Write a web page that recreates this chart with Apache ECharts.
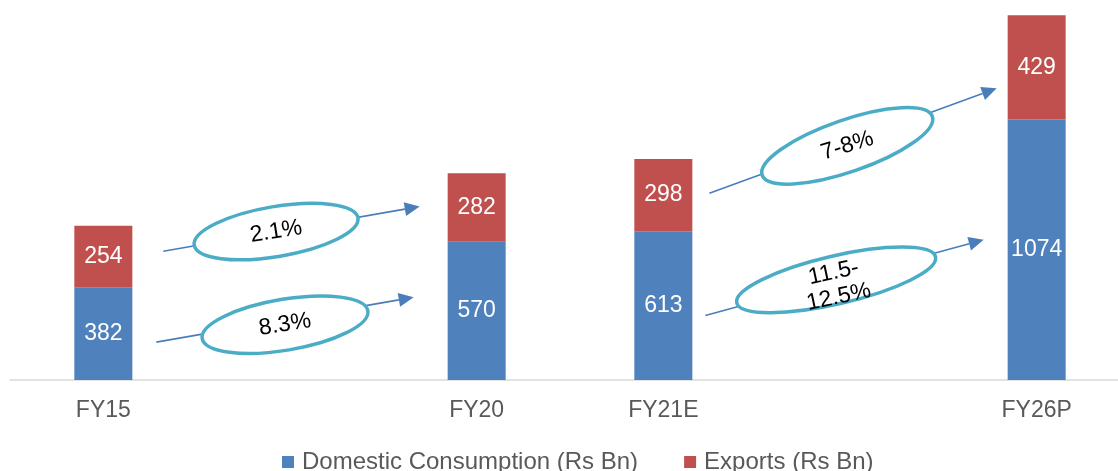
<!DOCTYPE html>
<html>
<head>
<meta charset="utf-8">
<script src="https://cdn.jsdelivr.net/npm/echarts@6/dist/echarts.min.js"></script>
<style>
  html, body { margin: 0; padding: 0; background: #fff; overflow: hidden; }
  /* canvas runs a little past the right edge so the last slot keeps its full width */
  #chart { width: 1130px; height: 471px; }
</style>
</head>
<body>
<div id="chart"></div>
<script>
// Fiscal years; the two blank slots keep the five-year gaps wide
const categories = ['FY15', ' ', 'FY20', 'FY21E', '  ', 'FY26P'];
const domestic = [382, null, 570, 613, null, 1074];
const exportsVals = [254, null, 282, 298, null, 429];
const seriesNames = ['Domestic Consumption (Rs Bn)', 'Exports (Rs Bn)'];
// CAGR call-outs: exports FY15-20, domestic FY15-20, exports FY21-26, domestic FY21-26
const growthLabels = ['2.1%', '8.3%', '7-8%', '11.5-\n12.5%'];

const FONT = '"Liberation Sans", Arial, sans-serif';
const BLUE = '#4f81bd';
const RED = '#c0504d';

const chart = echarts.init(document.getElementById('chart'), null, { renderer: 'canvas' });

chart.setOption({
  animation: false,
  textStyle: { fontFamily: FONT },
  grid: { left: 10, right: 0, top: 10, height: 370, containLabel: false },
  legend: {
    data: seriesNames,
    left: 277,
    top: 445,
    icon: 'rect',
    itemWidth: 12,
    itemHeight: 12,
    itemGap: 46,
    textStyle: { fontSize: 24, color: '#595959', fontFamily: FONT, padding: [0, 0, 0, 3] }
  },
  xAxis: {
    type: 'category',
    data: categories,
    axisLine: { show: true, lineStyle: { color: '#d9d9d9', width: 1.5 } },
    axisTick: { show: false },
    axisLabel: { color: '#595959', fontSize: 23, fontFamily: FONT, margin: 19, interval: 0 }
  },
  yAxis: {
    type: 'value',
    min: 0,
    max: 1525,
    show: false,
    splitLine: { show: false }
  },
  series: [
    {
      name: seriesNames[0],
      type: 'bar',
      stack: 'total',
      barWidth: 58,
      data: domestic,
      itemStyle: { color: BLUE },
      label: { show: true, position: 'inside', color: '#fff', fontSize: 23, fontFamily: FONT }
    },
    {
      name: seriesNames[1],
      type: 'bar',
      stack: 'total',
      barWidth: 58,
      data: exportsVals,
      itemStyle: { color: RED },
      label: { show: true, position: 'inside', color: '#fff', fontSize: 23, fontFamily: FONT }
    }
  ]
});

// Growth arrows: endpoints anchored to category centres (pixel nudge) at a value height
const arrowSpecs = [
  { from: 0, to: 2, v0: 531, v1: 715, dx0: 60, dx1: -57, t: 0.44, off: 0, textOff: 0, rx: 83, ry: 25, tilt: 9.5, textTilt: 9 },
  { from: 0, to: 2, v0: 156, v1: 341, dx0: 53, dx1: -63, t: 0.50, off: 5, textOff: 0, rx: 84, ry: 25.5, tilt: 9.5, textTilt: 9 },
  { from: 3, to: 5, v0: 770, v1: 1202, dx0: 46, dx1: -40, t: 0.48, off: 3, textOff: 0, rx: 90, ry: 26, tilt: 19, textTilt: 17 },
  { from: 3, to: 5, v0: 266, v1: 578, dx0: 42, dx1: -53, t: 0.47, off: 0, textOff: 5, rx: 102, ry: 24, tilt: 13, textTilt: 12 }
];

function buildCallouts() {
  const elements = [];
  arrowSpecs.forEach(function (s, i) {
    const p0 = chart.convertToPixel({ gridIndex: 0 }, [s.from, s.v0]);
    const p1 = chart.convertToPixel({ gridIndex: 0 }, [s.to, s.v1]);
    const x0 = p0[0] + s.dx0, y0 = p0[1];
    const x1 = p1[0] + s.dx1, y1 = p1[1];
    const len = Math.hypot(x1 - x0, y1 - y0);
    const ux = (x1 - x0) / len, uy = (y1 - y0) / len;
    const nx = -uy, ny = ux;
    const headLen = 15, headHalf = 7;
    const bx = x1 - ux * headLen, by = y1 - uy * headLen;

    elements.push({
      type: 'line',
      z: 10,
      shape: { x1: x0, y1: y0, x2: bx, y2: by },
      style: { stroke: '#4a7ebb', lineWidth: 1.6 }
    });
    elements.push({
      type: 'polygon',
      z: 10,
      shape: { points: [[x1, y1], [bx + nx * headHalf, by + ny * headHalf], [bx - nx * headHalf, by - ny * headHalf]] },
      style: { fill: '#4a7ebb' }
    });

    const cx = x0 + (x1 - x0) * s.t;
    const cy = y0 + (y1 - y0) * s.t + s.off;
    elements.push({
      type: 'group',
      x: cx,
      y: cy,
      z: 11,
      rotation: s.tilt * Math.PI / 180,
      children: [
        {
          type: 'ellipse',
          z: 11,
          shape: { cx: 0, cy: 0, rx: s.rx, ry: s.ry },
          style: { fill: '#ffffff', stroke: '#4bacc6', lineWidth: 3.5 }
        }
      ]
    });
    elements.push({
      type: 'text',
      z: 12,
      x: cx,
      y: cy + s.textOff,
      rotation: s.textTilt * Math.PI / 180,
      style: {
        text: growthLabels[i],
        font: '23px ' + FONT,
        fill: '#000000',
        align: 'center',
        verticalAlign: 'middle',
        textAlign: 'center',
        textVerticalAlign: 'middle',
        lineHeight: 25
      }
    });
  });
  chart.setOption({ graphic: { elements: elements } });
}

buildCallouts();
</script>
</body>
</html>
